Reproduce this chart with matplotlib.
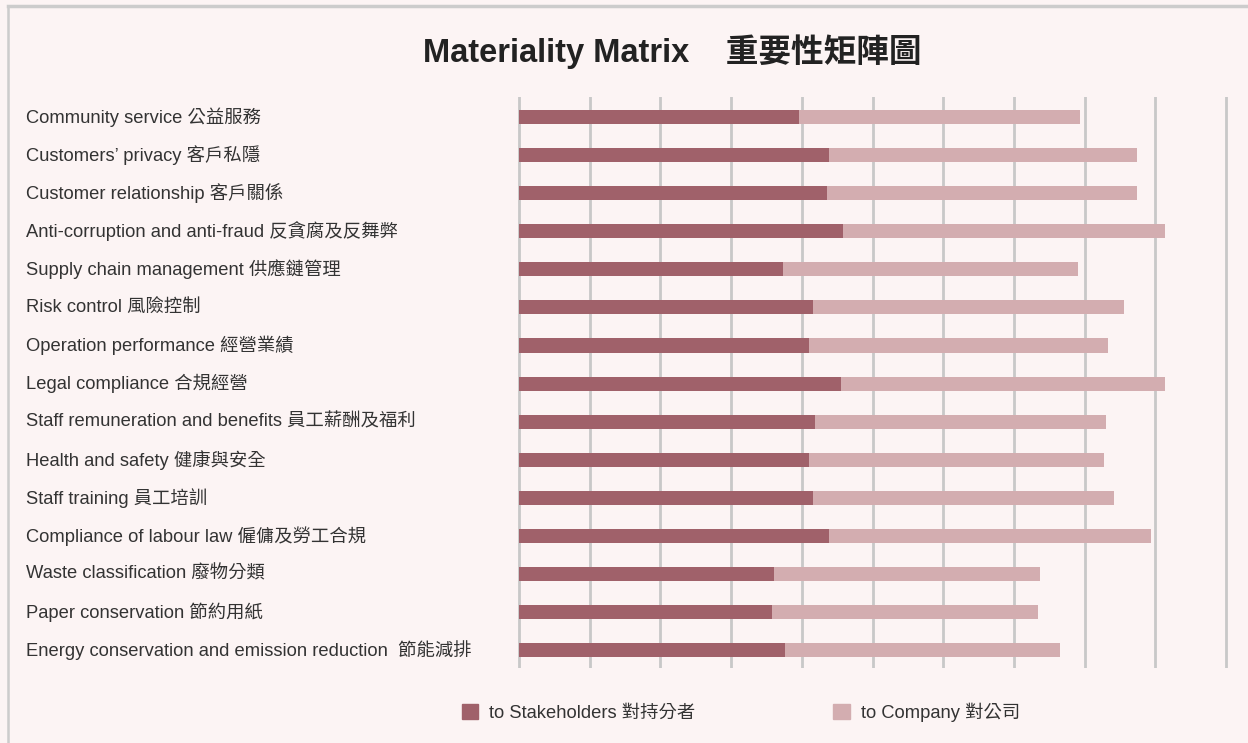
import matplotlib

matplotlib.use("Agg")

import matplotlib.pyplot as plt
from matplotlib.patches import Patch
from matplotlib.transforms import blended_transform_factory


CATEGORIES = [
    "Community service 公益服務",
    "Customers’ privacy 客戶私隱",
    "Customer relationship 客戶關係",
    "Anti-corruption and anti-fraud 反貪腐及反舞弊",
    "Supply chain management 供應鏈管理",
    "Risk control 風險控制",
    "Operation performance 經營業績",
    "Legal compliance 合規經營",
    "Staff remuneration and benefits 員工薪酬及福利",
    "Health and safety 健康與安全",
    "Staff training 員工培訓",
    "Compliance of labour law 僱傭及勞工合規",
    "Waste classification 廢物分類",
    "Paper conservation 節約用紙",
    "Energy conservation and emission reduction  節能減排",
]
TO_STAKEHOLDERS = [3.96, 4.38, 4.36, 4.58, 3.73, 4.16, 4.10, 4.55, 4.19, 4.10, 4.16, 4.38, 3.61, 3.58, 3.76]
TO_COMPANY = [3.97, 4.36, 4.38, 4.56, 4.18, 4.40, 4.23, 4.59, 4.11, 4.17, 4.26, 4.56, 3.76, 3.76, 3.89]
SERIES_LABELS = ["to Stakeholders 對持分者", "to Company 對公司"]
TITLE = "Materiality Matrix    重要性矩陣圖"

DARK = "#a0616a"
LIGHT = "#d3adb0"
BG = "#fcf4f4"
GRID = "#c8c8c8"
TEXT = "#333333"

plt.rcParams["font.family"] = ["Liberation Sans", "Noto Sans CJK TC"]

W, H = 1248, 743
fig = plt.figure(figsize=(W / 100, H / 100), dpi=100, facecolor=BG)

# axes placed so that x=0 sits at px 519 and x=10 at px 1226
ax = fig.add_axes([517 / W, 1 - 668 / H, 711 / W, 571 / H])
ax.set_facecolor("none")

y = list(range(len(CATEGORIES)))
ax.barh(y, TO_STAKEHOLDERS, height=0.37, color=DARK, zorder=3)
ax.barh(y, TO_COMPANY, left=TO_STAKEHOLDERS, height=0.37, color=LIGHT, zorder=3)

ax.set_xlim(-0.03, 10.03)
ax.set_ylim(14.47, -0.525)
ax.set_xticks(range(0, 11))
ax.set_yticks([])
ax.tick_params(axis="x", length=0, labelbottom=False)
ax.grid(axis="x", color=GRID, linewidth=2)
for s in ax.spines.values():
    s.set_visible(False)

trans = blended_transform_factory(fig.transFigure, ax.transData)
for i, lab in enumerate(CATEGORIES):
    ax.text(26 / W, i, lab, transform=trans, ha="left", va="center",
            fontsize=13.2, color=TEXT)

fig.text(672 / W, 1 - 52 / H, TITLE, ha="center", va="center",
         fontsize=23.5, fontweight="bold", color="#222222")

# frame lines (top and left)
fig.add_artist(plt.Line2D([8 / W, 1], [1 - 5.5 / H, 1 - 5.5 / H], transform=fig.transFigure,
                          color="#cccccc", linewidth=2.5))
fig.add_artist(plt.Line2D([8 / W, 8 / W], [0, 1 - 5.5 / H], transform=fig.transFigure,
                          color="#cccccc", linewidth=1.8))

handles = [Patch(color=DARK), Patch(color=LIGHT)]
fig.legend(handles, SERIES_LABELS, ncol=2, frameon=False, loc="center",
           bbox_to_anchor=(741 / W, 1 - 712 / H), fontsize=13.2,
           handlelength=0.9, handleheight=0.9, handletextpad=0.6,
           columnspacing=7.5, labelcolor=TEXT)

fig.savefig("out.png", dpi=100, facecolor=BG)
